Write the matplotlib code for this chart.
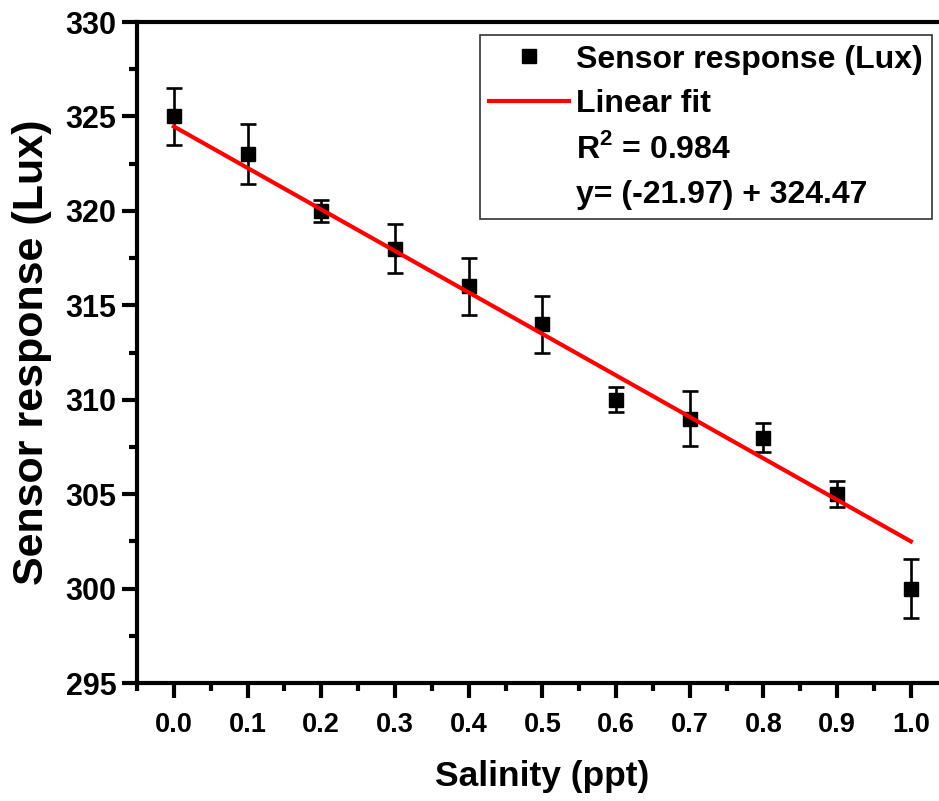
import matplotlib.pyplot as plt
import numpy as np
from matplotlib.lines import Line2D
from matplotlib.ticker import MultipleLocator, FormatStrFormatter

plt.rcParams["font.family"] = ["Liberation Sans", "DejaVu Sans"]
plt.rcParams["font.weight"] = "bold"
plt.rcParams["mathtext.fontset"] = "custom"
plt.rcParams["mathtext.rm"] = "Liberation Sans:bold"
plt.rcParams["mathtext.bf"] = "Liberation Sans:bold"

# data
salinity = [0.0, 0.1, 0.2, 0.3, 0.4, 0.5, 0.6, 0.7, 0.8, 0.9, 1.0]
response = [325, 323, 320, 318, 316, 314, 310, 309, 308, 305, 300]
response_err = [1.5, 1.6, 0.6, 1.3, 1.5, 1.5, 0.65, 1.45, 0.75, 0.7, 1.55]
slope = -21.97
intercept = 324.47
r_squared = 0.984

fig = plt.figure(figsize=(9.39, 8.01), dpi=100)
ax = fig.add_axes([0.1459, 0.1473, 0.8634, 0.8252])

ax.errorbar(salinity, response, yerr=response_err, fmt="s", color="k",
            markersize=10.5, elinewidth=1.9, capsize=5.8, capthick=1.9,
            zorder=3)

fit_x = np.array([salinity[0], salinity[-1]])
ax.plot(fit_x, slope * fit_x + intercept, color="red", lw=3, zorder=4)

ax.set_xlim(-0.05, 1.05)
ax.set_ylim(295, 330)
ax.xaxis.set_major_locator(MultipleLocator(0.1))
ax.xaxis.set_minor_locator(MultipleLocator(0.05))
ax.yaxis.set_major_locator(MultipleLocator(5))
ax.yaxis.set_minor_locator(MultipleLocator(2.5))
ax.xaxis.set_major_formatter(FormatStrFormatter("%.1f"))

for side in ["left", "bottom", "top", "right"]:
    ax.spines[side].set_linewidth(3)
ax.tick_params(which="major", length=10.8, width=3)
ax.tick_params(which="minor", length=5.8, width=3)
ax.tick_params(axis="y", which="major", labelsize=22, pad=4)
ax.tick_params(axis="x", which="major", labelsize=19.5, pad=10)

ax.set_xlabel("Salinity (ppt)", fontsize=25.5, fontweight="bold", labelpad=16)
ax.set_ylabel("Sensor response (Lux)", fontsize=31, fontweight="bold", labelpad=10)

handles = [
    Line2D([], [], marker="s", ls="none", color="k", markersize=10.5),
    Line2D([], [], color="red", lw=3),
    Line2D([], [], ls="none"),
    Line2D([], [], ls="none"),
]
labels = [
    "Sensor response (Lux)",
    "Linear fit",
    r"R$^{2}$ = " + f"{r_squared:.3f}",
    f"y= ({slope:.2f}) + {intercept:.2f}",
]
leg = ax.legend(handles, labels, loc="upper right",
                bbox_to_anchor=(0.9925, 0.9563), bbox_transform=fig.transFigure,
                fontsize=23, frameon=True, fancybox=False, framealpha=1,
                edgecolor="#333333", handlelength=2.5, handletextpad=0.2,
                borderpad=0.3, labelspacing=0.45, borderaxespad=0)
leg.get_frame().set_linewidth(1.2)

fig.savefig("out.png", dpi=100)
